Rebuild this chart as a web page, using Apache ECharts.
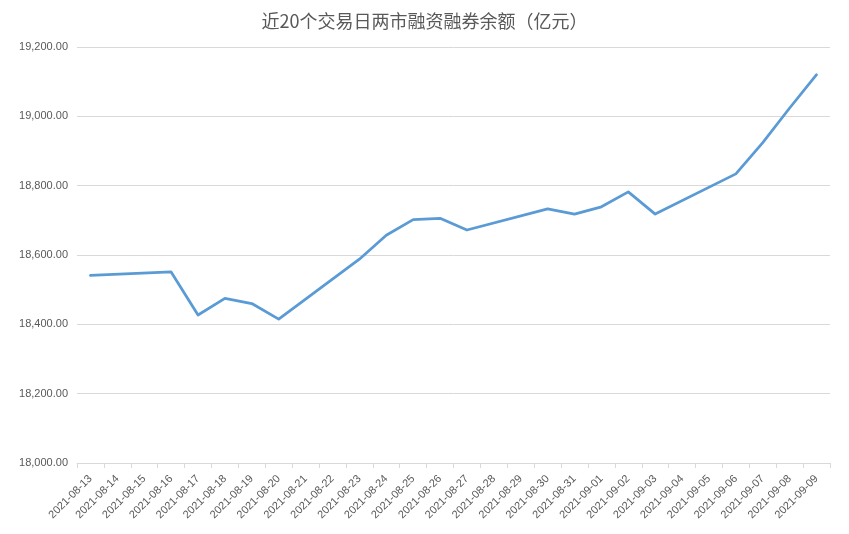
<!DOCTYPE html>
<html>
<head>
<meta charset="utf-8">
<script src="https://cdn.jsdelivr.net/npm/echarts@6/dist/echarts.min.js"></script>
<style>
html,body{margin:0;padding:0;background:#fff;}
#main{width:849px;height:534px;}
</style>
</head>
<body>
<div id="main"></div>
<script>
var titleText = '近20个交易日两市融资融券余额（亿元）';
var dates = ['2021-08-13','2021-08-14','2021-08-15','2021-08-16','2021-08-17','2021-08-18','2021-08-19','2021-08-20','2021-08-21','2021-08-22','2021-08-23','2021-08-24','2021-08-25','2021-08-26','2021-08-27','2021-08-28','2021-08-29','2021-08-30','2021-08-31','2021-09-01','2021-09-02','2021-09-03','2021-09-04','2021-09-05','2021-09-06','2021-09-07','2021-09-08','2021-09-09'];
var balance = [18541,null,null,18551,18427,18475,18460,18415,null,null,18588,18657,18702,18706,18672,null,null,18733,18718,18739,18782,18718,null,null,18834,18924,19024,19120];
var yMin = 18000, yMax = 19200, yStep = 200;

function fmt(v){
  var s = v.toFixed(2);
  var parts = s.split('.');
  parts[0] = parts[0].replace(/\B(?=(\d{3})+(?!\d))/g, ',');
  return parts.join('.');
}

var chart = echarts.init(document.getElementById('main'));
chart.setOption({
  backgroundColor:'#ffffff',
  animation:false,
  title:{
    text:titleText,
    left:'center',
    top:7,
    textStyle:{fontFamily:'Noto Sans CJK SC',fontSize:18,fontWeight:'normal',color:'#595959'}
  },
  grid:{left:77,right:19,top:47,bottom:71,containLabel:false},
  xAxis:{
    type:'category',
    data:dates,
    boundaryGap:true,
    axisLine:{lineStyle:{color:'#D9D9D9',width:1}},
    axisTick:{show:true,length:5,alignWithLabel:false,lineStyle:{color:'#D9D9D9'}},
    axisLabel:{interval:0,rotate:45,fontSize:11,color:'#595959',fontFamily:'Liberation Sans',margin:14}
  },
  yAxis:{
    type:'value',
    min:yMin,max:yMax,interval:yStep,
    axisLine:{show:false},
    axisTick:{show:false},
    splitLine:{lineStyle:{color:'#D9D9D9',width:1}},
    axisLabel:{formatter:fmt,fontSize:11,color:'#595959',fontFamily:'Liberation Sans',margin:9}
  },
  series:[{
    type:'line',
    data:balance,
    connectNulls:true,
    showSymbol:false,
    symbol:'none',
    lineStyle:{color:'#5B9BD5',width:2.75,join:'round',cap:'round'},
    itemStyle:{color:'#5B9BD5'}
  }]
});
</script>
</body>
</html>
